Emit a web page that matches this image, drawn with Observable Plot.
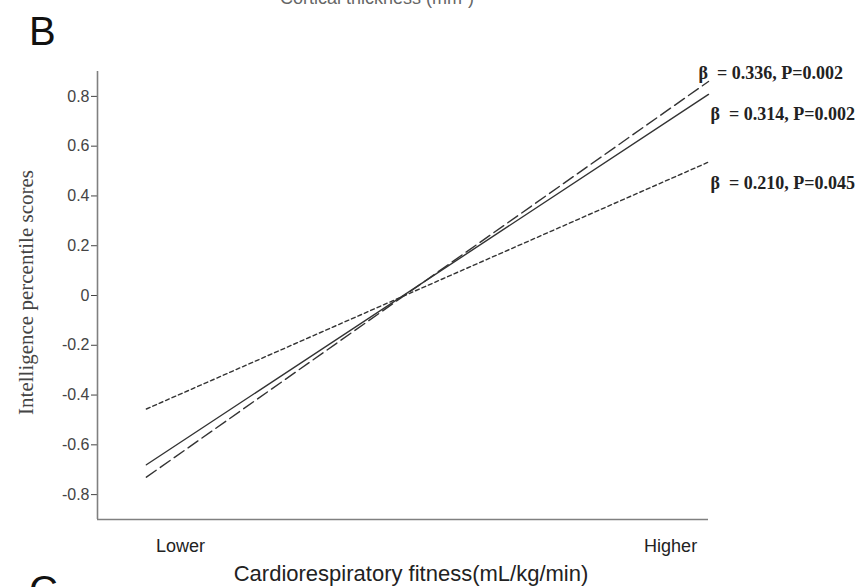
<!DOCTYPE html>
<html><head><meta charset="utf-8">
<script src="https://cdn.jsdelivr.net/npm/d3@7"></script>
<script src="https://cdn.jsdelivr.net/npm/@observablehq/plot@0.6"></script>
<style>
body{margin:0;background:#fff;}
#wrap{position:relative;width:860px;height:587px;overflow:hidden;font-family:"Liberation Sans",Arial,sans-serif;}
#wrap svg{position:absolute;left:0;top:0;}
.ov{position:absolute;white-space:nowrap;line-height:1;}
</style></head><body>
<div id="wrap"></div>
<script>
// ---- data ----
const seriesLabels = ["β\u00a0 = 0.336, P=0.002", "β\u00a0 = 0.314, P=0.002", "β\u00a0 = 0.210, P=0.045"];
const xStart = 8;      // left end of fitted lines (x scale 0-100)
const xEnd = 100;      // right end of fitted lines
const yStart = [-0.73, -0.68, -0.456];
const yEnd = [0.86, 0.808, 0.536];
const xTickValues = [13.6, 93.8];
const xTickLabels = ["Lower", "Higher"];
const yTickValues = [-0.8, -0.6, -0.4, -0.2, 0, 0.2, 0.4, 0.6, 0.8];

// ---- styles ----
const dashes = ["12,5", null, "4,3"];
const labelDx = [-10, 2, 2];
const labelDy = [-8, 20, 21];

const lineData = seriesLabels.flatMap((s, i) => [
  {series: s, i, x: xStart, y: yStart[i]},
  {series: s, i, x: xEnd, y: yEnd[i]}
]);
const endData = seriesLabels.map((s, i) => ({series: s, i, x: xEnd, y: yEnd[i]}));

const marks = [];
seriesLabels.forEach((s, i) => {
  marks.push(Plot.line(lineData.filter(d => d.i === i), {
    x: "x", y: "y", stroke: "#333", strokeWidth: 1.4,
    strokeDasharray: dashes[i] || undefined
  }));
  marks.push(Plot.text([endData[i]], {
    x: "x", y: "y", text: "series", textAnchor: "start",
    dx: labelDx[i], dy: labelDy[i], fontFamily: "Liberation Serif",
    fontWeight: "bold", fontSize: 18, fill: "#222"
  }));
});

const chart = Plot.plot({
  width: 860, height: 587,
  marginLeft: 97, marginRight: 152, marginTop: 71, marginBottom: 68,
  style: {fontFamily: "Liberation Sans, Arial, sans-serif", background: "#fff", overflow: "visible"},
  x: {domain: [0, 100]},
  y: {domain: [-0.9, 0.9]},
  marks: [
    Plot.axisY({ticks: yTickValues, tickFormat: d => d === 0 ? "0" : d.toFixed(1),
      tickSize: 6, tickPadding: 2, fontSize: 16, color: "#444", label: null}),
    Plot.axisX({ticks: xTickValues, tickFormat: (d) => xTickLabels[xTickValues.indexOf(d)],
      tickSize: 0, tickPadding: 20, fontSize: 18, color: "#222", label: null}),
    Plot.ruleX([0], {stroke: "#808080", strokeWidth: 1.6}),
    Plot.ruleY([-0.9], {stroke: "#808080", strokeWidth: 1.6}),
    ...marks,
    Plot.text(["Cardiorespiratory fitness(mL/kg/min)"], {frameAnchor: "bottom", dx: 8, dy: 54,
      fontSize: 22, fill: "#222", lineAnchor: "middle"}),
    Plot.text(["Intelligence percentile scores"], {frameAnchor: "left", dx: -71, dy: -3, rotate: -90,
      textAnchor: "middle", fontSize: 21, fontFamily: "Liberation Serif", fill: "#444", lineAnchor: "middle"})
  ]
});

const wrap = document.getElementById("wrap");
wrap.appendChild(chart);
const ovs = [
  ["Cortical thickness (mm²)", "left:280px;top:-11px;font-size:18px;color:#666"],
  ["B", "left:29px;top:11px;font-size:40px;color:#111"],
  ["C", "left:29px;top:570px;font-size:40px;color:#111"]
];
for (const [t, st] of ovs) {
  const d = document.createElement("div");
  d.className = "ov"; d.style.cssText = st; d.textContent = t;
  wrap.appendChild(d);
}
</script>
</body></html>
